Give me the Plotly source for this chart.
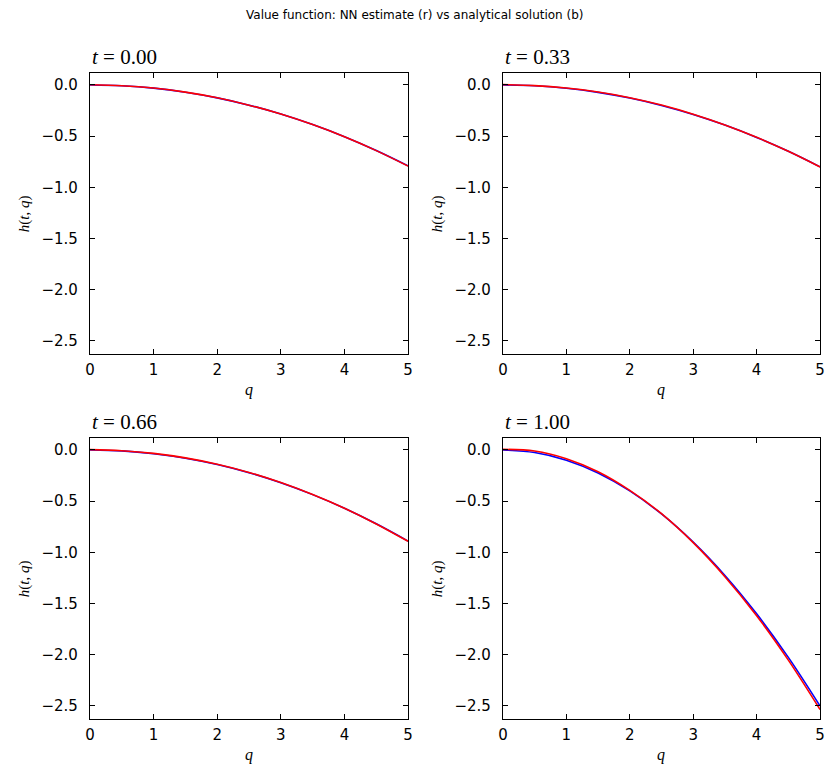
import plotly.graph_objects as go

# Inventory grid and value function samples h(t, q)
q = [0.0, 0.5, 1.0, 1.5, 2.0, 2.5, 3.0, 3.5, 4.0, 4.5, 5.0]
times = ["0.00", "0.33", "0.66", "1.00"]

# analytical solution (blue)
h_exact_t000 = [0.000, -0.008, -0.031, -0.071, -0.126, -0.197, -0.284, -0.387, -0.505, -0.640, -0.790]
h_exact_t033 = [0.000, -0.008, -0.032, -0.072, -0.128, -0.200, -0.288, -0.392, -0.512, -0.648, -0.800]
h_exact_t066 = [0.000, -0.009, -0.036, -0.080, -0.142, -0.222, -0.320, -0.436, -0.569, -0.721, -0.890]
h_exact_t100 = [0.000, -0.025, -0.100, -0.225, -0.400, -0.625, -0.900, -1.225, -1.600, -2.025, -2.500]

# neural network estimate (red)
h_nn_t000 = [0.002, -0.007, -0.030, -0.070, -0.125, -0.197, -0.284, -0.387, -0.506, -0.641, -0.792]
h_nn_t033 = [0.003, -0.006, -0.030, -0.069, -0.124, -0.196, -0.285, -0.390, -0.511, -0.648, -0.801]
h_nn_t066 = [0.003, -0.007, -0.033, -0.077, -0.139, -0.219, -0.318, -0.435, -0.569, -0.722, -0.892]
h_nn_t100 = [0.006, -0.010, -0.085, -0.212, -0.394, -0.622, -0.905, -1.237, -1.618, -2.052, -2.535]

exact = [h_exact_t000, h_exact_t033, h_exact_t066, h_exact_t100]
nn = [h_nn_t000, h_nn_t033, h_nn_t066, h_nn_t100]

x_ticks = [0, 1, 2, 3, 4, 5]
y_ticks = [0.0, -0.5, -1.0, -1.5, -2.0, -2.5]

W, H = 830, 768
# panel boxes in pixels: (left, right, top, bottom)
boxes = [(86, 408, 73, 354), (504, 825, 73, 354),
         (86, 408, 438, 719), (504, 825, 438, 719)]

SERIF = "Liberation Serif, DejaVu Serif, serif"
SANS = "DejaVu Sans, sans-serif"

fig = go.Figure()
annotations = []
for i, (l, r, t, b) in enumerate(boxes):
    n = i + 1
    xa = "x" if n == 1 else f"x{n}"
    ya = "y" if n == 1 else f"y{n}"
    fig.add_trace(go.Scatter(x=q, y=exact[i], mode="lines", line=dict(color="#0000ff", width=1.6, shape="spline"),
                             xaxis=xa, yaxis=ya, showlegend=False))
    fig.add_trace(go.Scatter(x=q, y=nn[i], mode="lines", line=dict(color="#ff0000", width=1.6, shape="spline"),
                             xaxis=xa, yaxis=ya, showlegend=False))
    axis_common = dict(showgrid=False, zeroline=False, showline=True, linecolor="black", linewidth=1.2,
                       mirror="ticks", ticks="inside", ticklen=5, tickwidth=1, tickcolor="black",
                       tickfont=dict(family=SANS, size=15, color="black"))
    fig.update_layout(**{
        ("xaxis" if n == 1 else f"xaxis{n}"): dict(
            domain=[l / W, r / W], anchor=ya, range=[0, 5], tickvals=x_ticks,
            ticklabelstandoff=2, **axis_common),
        ("yaxis" if n == 1 else f"yaxis{n}"): dict(
            domain=[1 - b / H, 1 - t / H], anchor=xa, range=[-2.627, 0.117], tickvals=y_ticks,
            tickformat=".1f", ticklabelstandoff=8, **axis_common),
    })
    annotations.append(dict(text=f"<i>t</i> = {times[i]}", x=l / W, y=1 - t / H, xref="paper", yref="paper",
                            xanchor="left", yanchor="bottom", yshift=2, xshift=0, showarrow=False,
                            font=dict(family=SERIF, size=21, color="black")))
    annotations.append(dict(text="<i>q</i>", x=(l + r) / 2 / W, y=1 - (b + 36) / H, xref="paper", yref="paper",
                            xanchor="center", yanchor="middle", showarrow=False,
                            font=dict(family=SERIF, size=16, color="black")))
    annotations.append(dict(text="<i>h</i>(<i>t</i>, <i>q</i>)", x=(l - 66) / W, y=1 - (t + b) / 2 / H,
                            xref="paper", yref="paper", xanchor="center", yanchor="middle", textangle=-90,
                            showarrow=False, font=dict(family=SERIF, size=15, color="black")))

annotations.append(dict(text="Value function: NN estimate (r) vs analytical solution (b)", x=415 / W, y=1 - 15 / H,
                        xref="paper", yref="paper", xanchor="center", yanchor="middle", showarrow=False,
                        font=dict(family=SANS, size=12, color="black")))

fig.update_layout(width=W, height=H, margin=dict(l=0, r=0, t=0, b=0), paper_bgcolor="white",
                  plot_bgcolor="white", annotations=annotations)

fig.write_html("out.html")
